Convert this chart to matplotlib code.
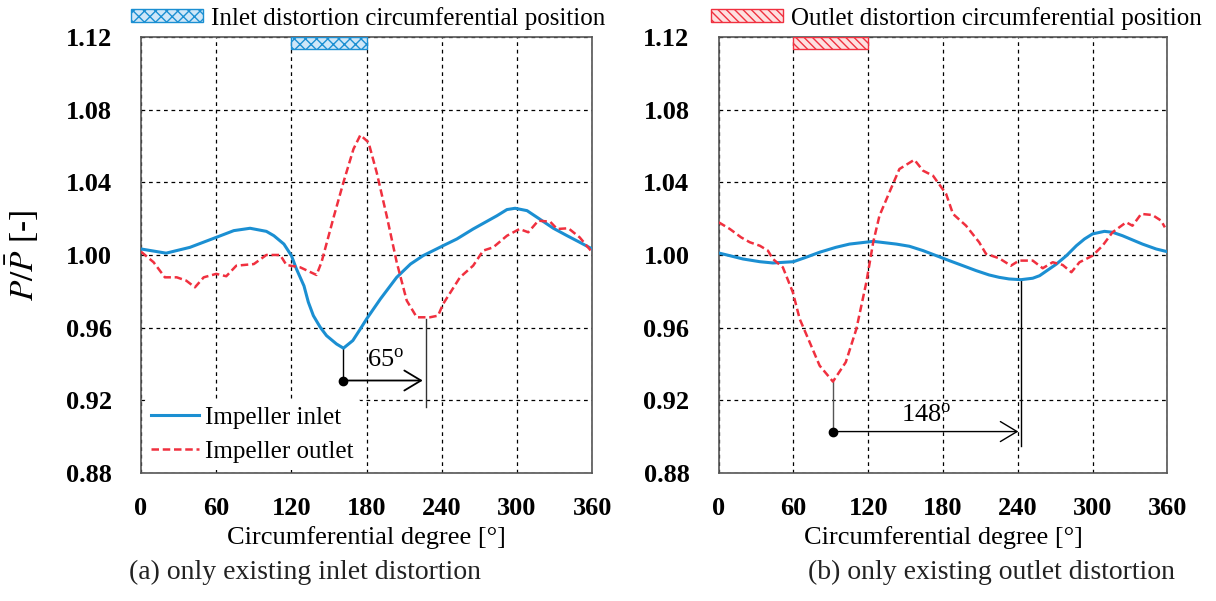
import numpy as np
import matplotlib.pyplot as plt
from matplotlib.patches import Patch

plt.rcParams['font.family'] = ['Liberation Serif', 'DejaVu Serif']
plt.rcParams['mathtext.fontset'] = 'stix'

# (a) only inlet distortion
a_in_deg = [0, 20, 39, 60, 74, 87, 100, 106, 114, 120, 124, 130, 133.5, 137.5, 143, 148, 156, 161.5, 169,
            175, 180, 191, 204, 215, 225, 241, 252, 265, 284, 292, 298.5, 308, 318, 329, 340, 350, 360]
a_in_val = [1.0033, 1.001, 1.0042, 1.0097, 1.0134, 1.0147, 1.013, 1.0106, 1.006, 0.9996, 0.9923, 0.983,
            0.974, 0.9666, 0.9602, 0.9556, 0.951, 0.9487, 0.9529, 0.9593, 0.9648, 0.9758, 0.9877, 0.995,
            0.9996, 1.0051, 1.0088, 1.0143, 1.0216, 1.025, 1.0257, 1.0244, 1.0198, 1.0147, 1.0106, 1.007,
            1.0033]
a_out_deg = [0, 10, 19, 28.5, 36, 43, 50, 60, 68, 76, 90, 100, 111, 116, 127, 140, 144, 154, 161.5, 169.5,
             175, 181.5, 188, 196, 204, 212, 220, 230.5, 237, 241, 254.5, 265, 273, 281, 292, 302, 309, 317,
             326.5, 332, 341, 350, 360]
a_out_val = [1.0018, 0.996, 0.9877, 0.9877, 0.9859, 0.9822, 0.9877, 0.9896, 0.9883, 0.9941, 0.995, 1.0, 1.0,
             0.9945, 0.9932, 0.989, 0.996, 1.0216, 1.040, 1.0583, 1.066, 1.062, 1.0455, 1.0216, 0.996, 0.9749,
             0.9657, 0.9657, 0.9666, 0.973, 0.9877, 0.9941, 1.0024, 1.0042, 1.0106, 1.0143, 1.0125, 1.0189,
             1.0183, 1.0143, 1.0147, 1.0097, 1.0015]

# (b) only outlet distortion
b_in_deg = [0, 9, 19.5, 33, 43.5, 60, 70, 81, 94, 105, 124, 142.5, 153, 164, 185, 196, 206.5, 217, 225,
            233, 242.5, 252, 257.5, 271, 279, 287, 293.5, 300, 309.5, 316, 324, 340, 351, 360]
b_in_val = [1.0011, 0.9996, 0.9978, 0.9963, 0.9956, 0.9963, 0.9987, 1.0015, 1.0042, 1.006, 1.0075, 1.006,
            1.0048, 1.0024, 0.9969, 0.9941, 0.9914, 0.989, 0.9877, 0.9868, 0.9864, 0.9872, 0.9886, 0.995,
            0.9996, 1.0051, 1.0088, 1.0116, 1.013, 1.0125, 1.0106, 1.006, 1.0033, 1.0018]
b_out_deg = [0, 9, 18, 25, 33, 39.5, 43.5, 51.5, 59.5, 65, 73, 81, 91.7, 102, 110.5, 118.5, 124, 129, 137,
             145, 157, 164, 172, 182.5, 188, 198.5, 209, 214.5, 225, 234.5, 241, 252, 260, 268, 276, 283,
             289.5, 300, 308, 316, 327, 332, 339, 348, 355, 358]
b_out_val = [1.018, 1.0143, 1.0097, 1.007, 1.0051, 1.0024, 0.9978, 0.9932, 0.9795, 0.9648, 0.952, 0.9391,
             0.9303, 0.941, 0.9593, 0.985, 1.007, 1.0216, 1.0345, 1.0473, 1.0524, 1.0464, 1.0436, 1.0336,
             1.0226, 1.0161, 1.007, 1.0006, 0.9982, 0.9941, 0.9969, 0.9969, 0.9927, 0.996, 0.9945, 0.9905,
             0.996, 0.9996, 1.0051, 1.0125, 1.018, 1.0161, 1.0226, 1.022, 1.0189, 1.0152]

xticks = [0, 60, 120, 180, 240, 300, 360]
yticks = [0.88, 0.92, 0.96, 1.00, 1.04, 1.08, 1.12]

blue = '#1b8fd2'
red = '#f0303f'

fig = plt.figure(figsize=(12.16, 6.01), dpi=100)
axA = fig.add_axes([0.116, 0.213, 0.371, 0.7255])
axB = fig.add_axes([0.591, 0.213, 0.369, 0.7255])


def style(ax):
    ax.set_xlim(0, 360)
    ax.set_ylim(0.88, 1.12)
    ax.set_xticks(xticks)
    ax.set_yticks(yticks)
    ax.set_yticklabels(['%.2f' % v for v in yticks])
    ax.tick_params(length=0, labelsize=19)
    ax.tick_params(axis='y', pad=21)
    ax.tick_params(axis='x', pad=17)
    for lab in ax.get_xticklabels() + ax.get_yticklabels():
        lab.set_fontweight('bold')
    ax.grid(True, color='black', ls=(0, (3, 3)), lw=0.9)
    for s in ax.spines.values():
        s.set_color('#555555')
        s.set_linewidth(1.2)
    ax.set_xlabel('Circumferential degree [°]', fontsize=19)
    ax.xaxis.set_label_coords(0.5, -0.147)
    ax.xaxis.label.set_va('center')


style(axA)
style(axB)

axA.plot(a_in_deg, a_in_val, color=blue, lw=2.2, label='Impeller inlet', zorder=3)
axA.plot(a_out_deg, a_out_val, color=red, lw=1.8, ls=(0, (3, 1.5)), label='Impeller outlet', zorder=3)
axB.plot(b_in_deg, b_in_val, color=blue, lw=2.2, zorder=3)
axB.plot(b_out_deg, b_out_val, color=red, lw=1.8, ls=(0, (3, 1.5)), zorder=3)

axA.set_ylabel(r'$P/\bar{P}$ [-]', fontsize=24)
axA.yaxis.set_label_coords(-0.262, 0.5)
axA.yaxis.label.set_va('center')

leg = axA.legend(loc='lower left', frameon=True, fontsize=18, handlelength=1.9, handletextpad=0.25,
                 borderaxespad=0.1, borderpad=0.3, labelspacing=0.45)
leg.get_frame().set_edgecolor('none')
leg.get_frame().set_alpha(1)

# distortion position bars
axA.bar(150, 0.0065, width=60, bottom=1.1135, facecolor='#cfe7f8', edgecolor=blue, hatch='xxx', lw=1, zorder=4)
axB.bar(90, 0.0065, width=60, bottom=1.1135, facecolor='#fde0e0', edgecolor=red, hatch='\\\\\\\\', lw=1, zorder=4)

fig.legend(handles=[Patch(facecolor='#cfe7f8', edgecolor=blue, hatch='xxx', label='Inlet distortion circumferential position')],
           loc='center left', bbox_to_anchor=(0.089, 0.97), frameon=False, fontsize=18,
           handlelength=2.9, handleheight=0.45, handletextpad=0.3)
fig.legend(handles=[Patch(facecolor='#fde0e0', edgecolor=red, hatch='\\\\\\\\', label='Outlet distortion circumferential position')],
           loc='center left', bbox_to_anchor=(0.566, 0.97), frameon=False, fontsize=18,
           handlelength=2.9, handleheight=0.45, handletextpad=0.3)

# phase shift annotations
axA.plot([161.5, 161.5], [0.9487, 0.9309], color='black', lw=1)
axA.plot([227, 227], [0.9648, 0.9162], color='#333333', lw=1)
axA.plot(161.5, 0.9309, 'o', color='black', ms=6)
axA.annotate('', xy=(227, 0.9309), xytext=(161.5, 0.9309),
             arrowprops=dict(arrowstyle='->,head_length=0.5,head_width=0.3', color='black', lw=1.3,
                             mutation_scale=24))
axA.text(195, 0.9418, '65$^\\mathregular{o}$', fontsize=19, ha='center', va='center')

axB.plot([91.7, 91.7], [0.9303, 0.9028], color='#555555', lw=1)
axB.plot([242.7, 242.7], [0.9864, 0.8951], color='black', lw=1)
axB.plot(91.7, 0.9028, 'o', color='black', ms=6)
axB.annotate('', xy=(242.7, 0.9028), xytext=(91.7, 0.9028),
             arrowprops=dict(arrowstyle='->,head_length=0.5,head_width=0.3', color='black', lw=1,
                             mutation_scale=24))
axB.text(166.5, 0.9116, '148$^\\mathregular{o}$', fontsize=19, ha='center', va='center')

fig.text(0.251, 0.047, '(a) only existing inlet distortion', fontsize=20, ha='center', va='center', color='#222222')
fig.text(0.815, 0.047, '(b) only existing outlet distortion', fontsize=20, ha='center', va='center', color='#222222')

fig.savefig('out.png', dpi=100)
